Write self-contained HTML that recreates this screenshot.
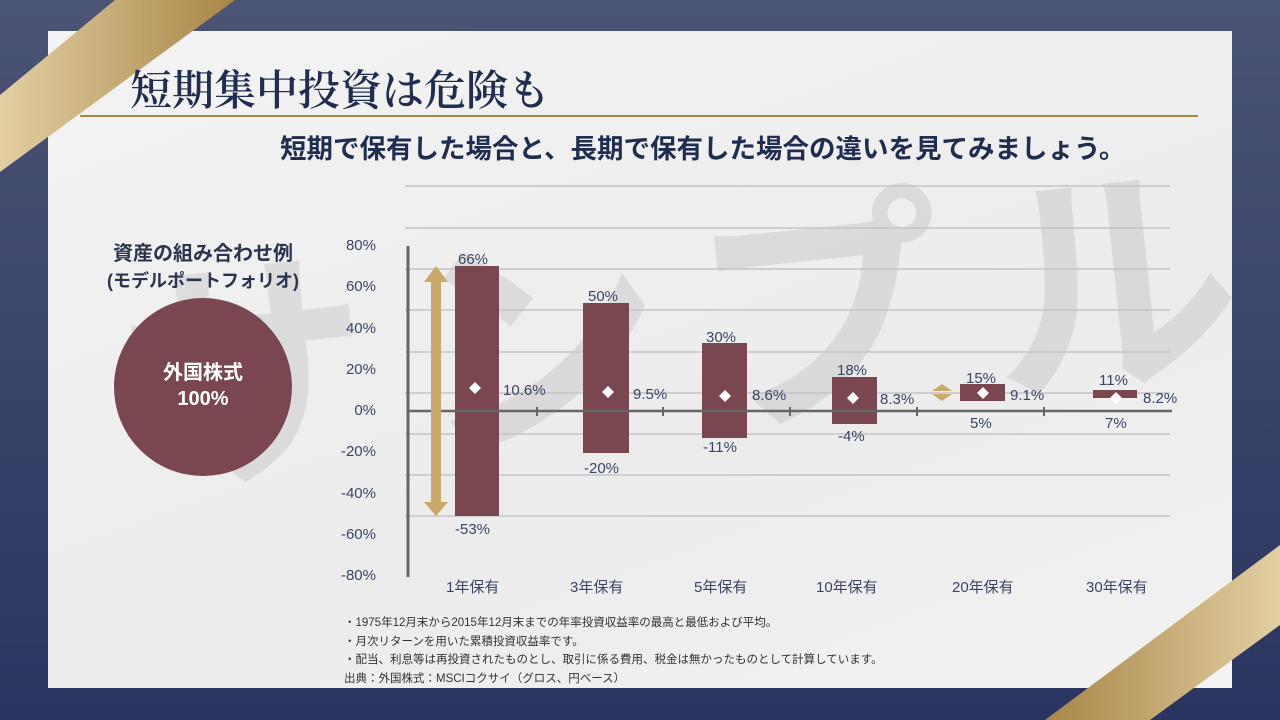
<!DOCTYPE html>
<html><head><meta charset="utf-8"><style>
body{margin:0;width:1280px;height:720px;overflow:hidden;background:linear-gradient(#4b5474,#2a3460);font-family:"Liberation Sans","Noto Sans CJK JP",sans-serif;position:relative}
.card{position:absolute;left:48px;top:31px;width:1184px;height:657px;background:linear-gradient(160deg,#f3f3f3,#ececec 60%,#f2f2f2)}
.t{position:absolute;white-space:nowrap}
</style></head><body>
<div class="card"></div>
<svg width="1280" height="720" style="position:absolute;left:0;top:0">
<defs><linearGradient id="g" x1="0" x2="1"><stop offset="0" stop-color="#e3cfa3"/><stop offset="1" stop-color="#a88646"/></linearGradient>
<linearGradient id="g2" x1="0" x2="1"><stop offset="0" stop-color="#a88646"/><stop offset="1" stop-color="#e3cfa3"/></linearGradient>
<clipPath id="c"><rect x="48" y="31" width="1184" height="657"/></clipPath></defs>
<g clip-path="url(#c)"><text x="680" y="420" font-size="250" fill="#000" fill-opacity="0.08" text-anchor="middle" font-family="Noto Sans CJK JP" font-weight="bold" transform="rotate(-6 680 330)" textLength="1120">サンプル</text></g>
<polygon points="0,95 115,0 235,0 0,172" fill="url(#g)"/>
<polygon points="1045,720 1280,545 1280,625 1150,720" fill="url(#g2)"/>
<line x1="80" y1="116" x2="1198" y2="116" stroke="#a88646" stroke-width="2"/>
<g stroke="#c4c4c4" stroke-width="1.5">
<line x1="405" y1="186" x2="1170" y2="186"/><line x1="405" y1="228" x2="1170" y2="228"/><line x1="405" y1="269" x2="1170" y2="269"/><line x1="405" y1="310" x2="1170" y2="310"/><line x1="405" y1="352" x2="1170" y2="352"/><line x1="405" y1="393" x2="1170" y2="393"/><line x1="405" y1="434" x2="1170" y2="434"/><line x1="405" y1="475" x2="1170" y2="475"/><line x1="405" y1="516" x2="1170" y2="516"/></g>
<g fill="#7a4650">
<rect x="455" y="266" width="44" height="250"/><rect x="583" y="303" width="46" height="150"/><rect x="702" y="343" width="45" height="95"/><rect x="832" y="377" width="45" height="47"/><rect x="960" y="384" width="45" height="17"/><rect x="1093" y="390" width="44" height="8"/></g>
<line x1="408" y1="246" x2="408" y2="577" stroke="#666" stroke-width="3"/>
<line x1="408" y1="411" x2="1172" y2="411" stroke="#666" stroke-width="2.5"/>
<g stroke="#666" stroke-width="2"><line x1="537" y1="407" x2="537" y2="416"/><line x1="663" y1="407" x2="663" y2="416"/><line x1="790" y1="407" x2="790" y2="416"/><line x1="917" y1="407" x2="917" y2="416"/><line x1="1044" y1="407" x2="1044" y2="416"/></g>
<g fill="#c9a86a">
<rect x="431" y="280" width="10" height="224"/><polygon points="436,266 424,282 448,282"/><polygon points="436,516 424,502 448,502"/>
<polygon points="942,384 932,391 952,391"/><polygon points="942,401 932,394 952,394"/></g>
<g fill="#fff"><polygon points="475,382 481,388 475,394 469,388"/><polygon points="608,386 614,392 608,398 602,392"/><polygon points="725,390 731,396 725,402 719,396"/><polygon points="853,392 859,398 853,404 847,398"/><polygon points="983,387 989,393 983,399 977,393"/><polygon points="1116,392 1122,398 1116,404 1110,398"/></g>
<circle cx="203" cy="387" r="89" fill="#7a4650"/>
</svg>
<div class="t" style="left:130px;top:58px;font-size:42px;font-weight:600;color:#1f2d50;font-family:'Liberation Serif','Noto Serif CJK SC',serif">短期集中投資は危険も</div>
<div class="t" style="left:280px;top:127px;font-size:26.5px;font-weight:bold;color:#1f2d50">短期で保有した場合と、長期で保有した場合の違いを見てみましょう。</div>
<div class="t" style="left:0;width:406px;top:241px;text-align:center;font-size:20px;font-weight:bold;color:#2c3550;line-height:27px">資産の組み合わせ例<br><span style="font-size:18px">(モデルポートフォリオ)</span></div>
<div class="t" style="left:114px;width:178px;top:360px;text-align:center;font-size:20px;font-weight:bold;color:#fff;line-height:26px">外国株式<br>100%</div>
<div style="position:absolute;left:330px;top:225px;width:46px;text-align:right;font-size:15px;color:#3a4566;line-height:41.3px">80%<br>60%<br>40%<br>20%<br>0%<br>-20%<br>-40%<br>-60%<br>-80%</div>
<div style="font-size:15px;color:#3a4566">
<div class="t" style="left:458px;top:251px">66%</div><div class="t" style="left:455px;top:521px">-53%</div><div class="t" style="left:503px;top:382px">10.6%</div>
<div class="t" style="left:588px;top:288px">50%</div><div class="t" style="left:584px;top:460px">-20%</div><div class="t" style="left:633px;top:386px">9.5%</div>
<div class="t" style="left:706px;top:329px">30%</div><div class="t" style="left:703px;top:439px">-11%</div><div class="t" style="left:752px;top:387px">8.6%</div>
<div class="t" style="left:837px;top:362px">18%</div><div class="t" style="left:838px;top:428px">-4%</div><div class="t" style="left:880px;top:391px">8.3%</div>
<div class="t" style="left:966px;top:370px">15%</div><div class="t" style="left:970px;top:415px">5%</div><div class="t" style="left:1010px;top:387px">9.1%</div>
<div class="t" style="left:1099px;top:372px">11%</div><div class="t" style="left:1105px;top:415px">7%</div><div class="t" style="left:1143px;top:390px">8.2%</div>
<div class="t" style="left:446px;top:576px">1年保有</div><div class="t" style="left:570px;top:576px">3年保有</div><div class="t" style="left:694px;top:576px">5年保有</div><div class="t" style="left:816px;top:576px">10年保有</div><div class="t" style="left:952px;top:576px">20年保有</div><div class="t" style="left:1086px;top:576px">30年保有</div>
</div>
<div class="t" style="left:344px;top:614px;font-size:11.5px;color:#333;line-height:18.5px">・1975年12月末から2015年12月末までの年率投資収益率の最高と最低および平均。<br>・月次リターンを用いた累積投資収益率です。<br>・配当、利息等は再投資されたものとし、取引に係る費用、税金は無かったものとして計算しています。<br>出典：外国株式：MSCIコクサイ（グロス、円ベース）</div>
</body></html>
